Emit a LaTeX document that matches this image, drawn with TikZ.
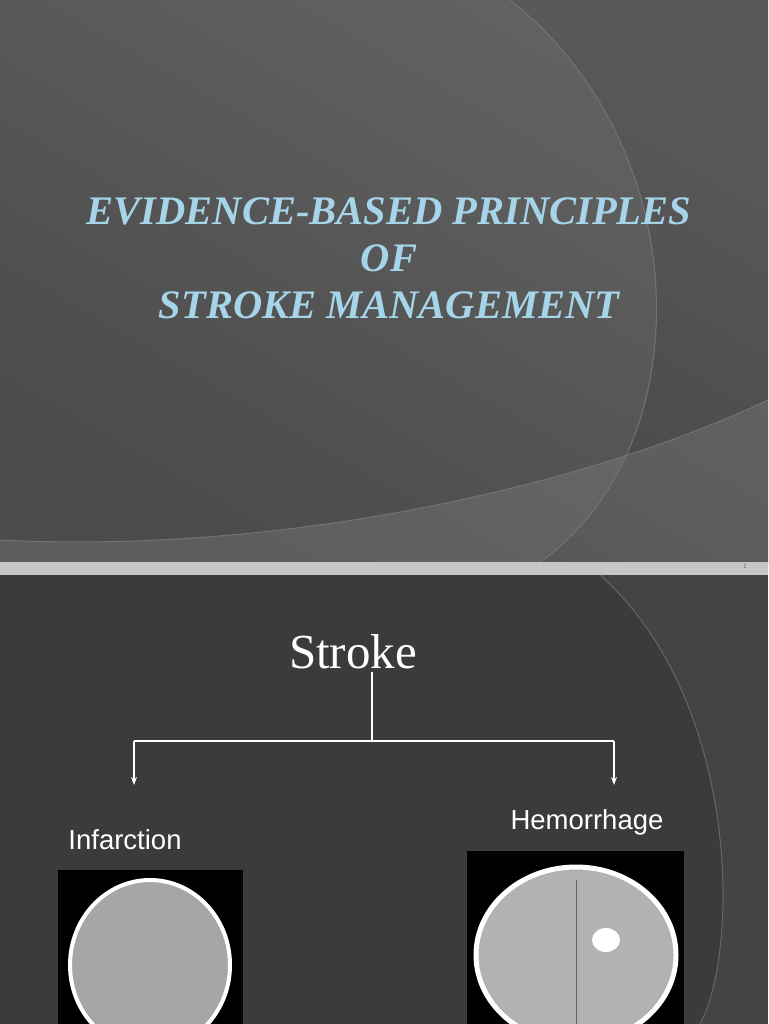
\documentclass[tikz,border=0pt]{standalone}
\usetikzlibrary{arrows.meta}
\usepackage{fontspec}
\setmainfont{Liberation Serif}
\setsansfont{Liberation Sans}
\definecolor{titleblue}{HTML}{A6D4E8}
\begin{document}
\begin{tikzpicture}[x=1pt,y=-1pt,
 title/.style={font=\fontsize{40.5}{47}\selectfont\bfseries\itshape, text=titleblue, align=center},
 lbl/.style={font=\sffamily\fontsize{27.5}{30}\selectfont, text=white},
 conn/.style={white, line width=2pt},
 arr/.style={conn, -{Stealth[length=8pt,width=6pt]}}]
\useasboundingbox (0,0) rectangle (768,1024);
% slide 1
\shade[top color=gray!70!black, bottom color=black!75, shading angle=-30] (0,0) rectangle (768,562);
\fill[white,opacity=0.06] (0,0) -- (510,0) .. controls (700,150) and (700,450) .. (540,562) -- (0,562) -- cycle;
\fill[white,opacity=0.10] (0,540) .. controls (300,555) and (600,480) .. (768,400) -- (768,562) -- (0,562) -- cycle;
\draw[black!55, line width=1pt] (510,0) .. controls (700,150) and (700,450) .. (540,562);
\draw[black!55, line width=1pt] (0,540) .. controls (300,555) and (600,480) .. (768,400);
\fill[gray!45] (0,562) rectangle (768,575);
\node[font=\sffamily\fontsize{6}{6}\selectfont, text=gray!80!black] (pg) at (745,566) {1};
\node[title] (t) at (389,258) {EVIDENCE-BASED PRINCIPLES\\OF\\STROKE MANAGEMENT};
% slide 2
\fill[black!77] (0,575) rectangle (768,1024);
\fill[white,opacity=0.05] (600,575) .. controls (740,700) and (740,950) .. (700,1024) -- (768,1024) -- (768,575) -- cycle;
\draw[black!60, line width=1pt] (600,575) .. controls (740,700) and (740,950) .. (700,1024);
\node[font=\fontsize{49}{52}\selectfont, text=white] (s) at (353,652) {Stroke};
\coordinate (j) at (372,741);
\coordinate (l) at (134,741);
\coordinate (r) at (614,741);
\coordinate (la) at (134,785);
\coordinate (ra) at (614,785);
\draw[conn] (372,672) -- (j);
\draw[conn] (l) -- (r);
\draw[arr] (l) -- (la);
\draw[arr] (r) -- (ra);
\node[lbl] (inf) at (125,840) {Infarction};
\node[lbl] (hem) at (587,822) {Hemorrhage};
% CT images
\fill[black] (58,870) rectangle (243,1024);
\draw[white!90, line width=4pt, fill=gray!70] (150,965) ellipse (80 and 85);
\fill[black] (467,851) rectangle (684,1024);
\draw[white!90, line width=5pt, fill=gray!60] (576,955) ellipse (100 and 88);
\draw[black!60, line width=1pt] (576,880) -- (576,1024);
\fill[white!90] (606,940) ellipse (14 and 12);
\end{tikzpicture}
\end{document}
